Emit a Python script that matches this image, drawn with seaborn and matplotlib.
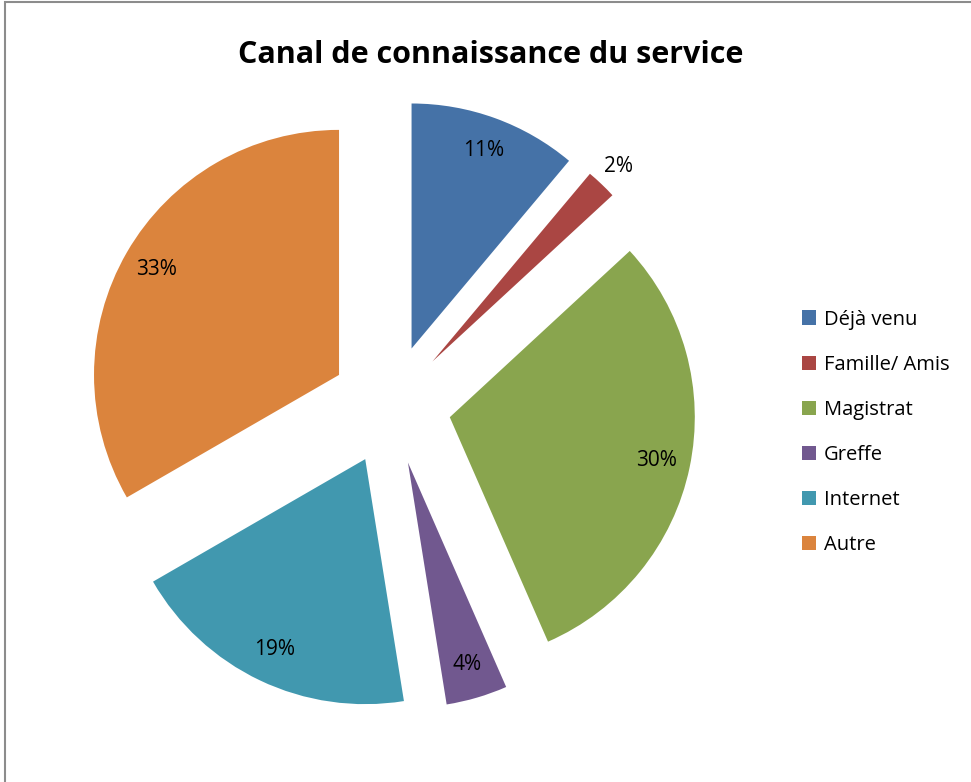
import matplotlib
matplotlib.use("Agg")
import matplotlib.pyplot as plt
import seaborn as sns
import numpy as np
from matplotlib.patches import Rectangle

# Data
categories = ["Déjà venu", "Famille/ Amis", "Magistrat", "Greffe", "Internet", "Autre"]
values = [11, 2, 30, 4, 19, 33]
colors = ["#4572A7", "#AA4643", "#89A54E", "#71588F", "#4198AF", "#DB843D"]

sns.set_theme(style="white")
plt.rcParams['font.family'] = ['Open Sans', 'DejaVu Sans']
plt.rcParams['text.color'] = 'black'

fig = plt.figure(figsize=(9.71, 7.82), dpi=100)

# outer chart border (right/bottom edges fall outside the image)
fig.patches.append(Rectangle((5 / 971, -0.01), 1.02, 1 - 2 / 782 + 0.01,
                             transform=fig.transFigure, fill=False,
                             edgecolor="#8c8c8c", lw=1.5))

ax = fig.add_axes([0.0242, 0.0122, 0.757, 0.94])
explode = [0.245] * len(values)
wedges, texts, autotexts = ax.pie(values, colors=colors, explode=explode,
                                  startangle=90, counterclock=False,
                                  autopct='%.0f%%', pctdistance=0.86,
                                  wedgeprops=dict(linewidth=0),
                                  textprops=dict(fontsize=15, color="black"))
ax.set_xlim(-1.5, 1.5)
ax.set_ylim(-1.5, 1.5)
ax.set_aspect("equal")
ax.axis("off")

# the tiny slice gets its label outside
for w, t, v in zip(wedges, autotexts, values):
    if v / sum(values) < 0.03:
        ang = np.deg2rad((w.theta1 + w.theta2) / 2)
        cx, cy = w.center
        t.set_position((cx + 1.1 * np.cos(ang), cy + 1.1 * np.sin(ang)))

fig.text(0.505, 0.93, "Canal de connaissance du service", ha="center",
         va="center", fontsize=22, fontweight="bold")

fig.legend(wedges, categories, loc="center left", bbox_to_anchor=(0.807, 0.447),
           frameon=False, fontsize=14.5, handlelength=0.7, handleheight=0.7,
           handletextpad=0.4, labelspacing=1.25)

fig.savefig("out.png", dpi=100)
